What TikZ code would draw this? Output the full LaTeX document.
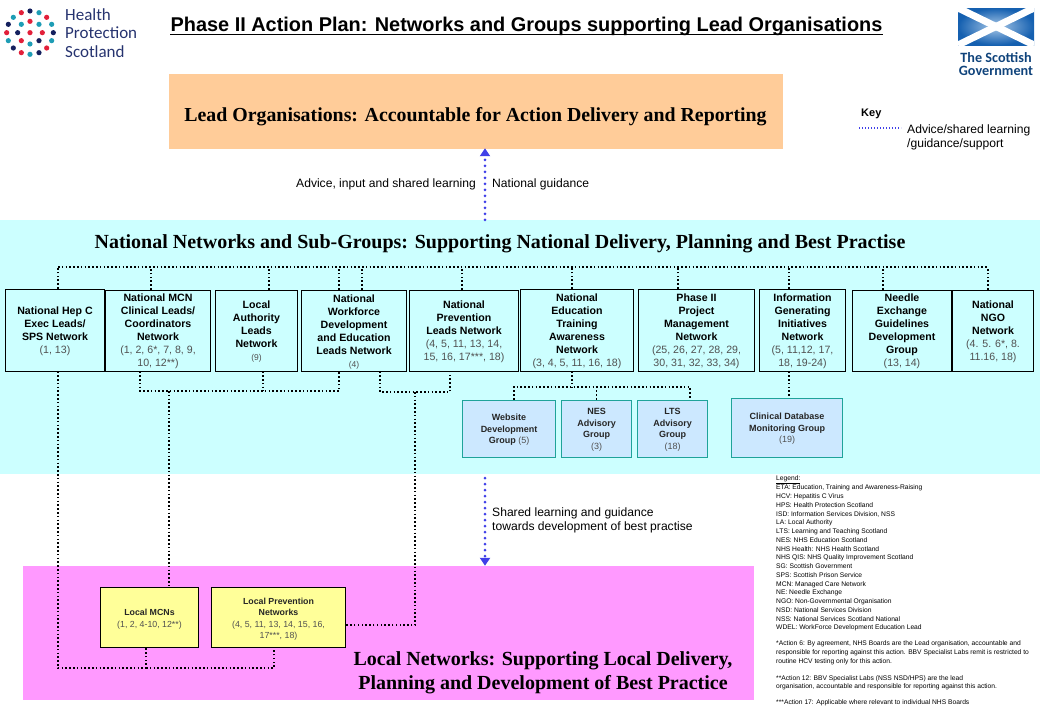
\documentclass[tikz,border=0pt]{standalone}
\usepackage{fontspec}
\setmainfont{Liberation Sans}
\newfontfamily\headfont{Liberation Serif}
\newfontfamily\logofont{Carlito}
\usetikzlibrary{arrows.meta}
\definecolor{leadorange}{HTML}{FFCC99}
\definecolor{bandcyan}{HTML}{CCFFFF}
\definecolor{localpink}{HTML}{FF99FF}
\definecolor{localyellow}{HTML}{FFFF99}
\definecolor{groupblue}{HTML}{CCE8FF}
\definecolor{groupedge}{HTML}{1FA39A}
\definecolor{linkblue}{HTML}{4040E8}
\definecolor{refgray}{HTML}{505050}
\definecolor{hpsred}{HTML}{E2203A}
\definecolor{hpsteal}{HTML}{1E9DB5}
\definecolor{hpsnavy}{HTML}{14205E}
\definecolor{hpstext}{HTML}{26336F}
\definecolor{saltire}{HTML}{1560B0}
\definecolor{saltirelight}{HTML}{A8C8E8}
\newcommand{\refs}[1]{{\mdseries\color{refgray}#1}}
\newcommand{\topgap}[1][10pt]{\rule{0pt}{#1}}
\tikzset{
  netbox/.style={draw, line width=0.9pt, fill=bandcyan, align=center, inner sep=0pt,
    font=\fontsize{10.6}{13}\selectfont\bfseries},
  groupbox/.style={draw=groupedge, line width=0.9pt, fill=groupblue, align=center, inner sep=0pt,
    text=black!85, font=\fontsize{9}{11.4}\selectfont\bfseries},
  localbox/.style={draw, line width=0.9pt, fill=localyellow, align=center, inner sep=0pt,
    text=black!85, font=\fontsize{8.8}{11.4}\selectfont\bfseries},
  headtext/.style={font=\fontsize{20}{24}\selectfont\headfont\bfseries, align=center, inner sep=0pt},
  plaintext/.style={font=\fontsize{12.1}{14}\selectfont, align=left, inner sep=0pt},
  netlink/.style={line width=1.3pt, dash pattern=on 1.5pt off 2.3pt},
  bluelink/.style={line width=3pt, linkblue, line cap=round, dash pattern=on 0pt off 6pt,
    -{Triangle[length=8pt,width=10pt]}}
}
\begin{document}
\begin{tikzpicture}[x=1pt, y=-1pt]
\useasboundingbox (0,0) rectangle (1040,720);
% coloured bands
\node (national) [fill=bandcyan, minimum width=1040pt, minimum height=254pt, inner sep=0pt] at (520,347) {};
\node (localnet) [fill=localpink, minimum width=731pt, minimum height=134pt, inner sep=0pt] at (388.5,633) {};
\node (lead) [fill=leadorange, minimum width=614pt, minimum height=75pt, inner sep=0pt] at (476,111.5) {};
\node (leadhead) [headtext, font=\fontsize{19.85}{24}\selectfont\headfont\bfseries] at (475.5,116.5) {Lead Organisations: Accountable for Action Delivery and Reporting};
\node (nationalhead) [headtext] at (500,244) {National Networks and Sub-Groups: Supporting National Delivery, Planning and Best Practise};
\node (localhead) [headtext] at (543,673) {Local Networks: Supporting Local Delivery,\\Planning and Development of Best Practice};
% title and logos
\node (title) [font=\fontsize{19.9}{22}\selectfont\bfseries, inner sep=0pt, text depth=3pt] at (526.5,25.75) {Phase II Action Plan: Networks and Groups supporting Lead Organisations};
\draw [line width=1.6pt] (title.south west) -- (title.south east);
\foreach \px/\py/\c in {90/33/hpsnavy, 64/38/hpsred, 117/38/hpsteal, 40/52/hpsteal, 140/52/hpsred,
  90/64/hpsred, 64/73/hpsteal, 117/73/hpsteal, 25/73/hpsnavy, 155/73/hpsteal,
  20/98/hpsred, 53/98/hpsnavy, 90/98/hpsred, 127/98/hpsred, 160/98/hpsnavy,
  90/132/hpsteal, 64/122/hpsred, 117/122/hpsnavy, 25/122/hpsteal, 155/122/hpsteal,
  40/144/hpsnavy, 140/144/hpsred, 64/158/hpsred, 90/163/hpsteal, 117/158/hpsnavy}
{
  \fill [\c] (\px/3,\py/3) circle (2.6pt);
}
\node (hpslogo) [anchor=west, font=\fontsize{17}{18.5}\selectfont\logofont, text=hpstext, align=left, inner sep=0pt] at (65,33) {Health\\Protection\\Scotland};
\begin{scope}
\clip (958,8) rectangle (1034,45);
\shade [inner color=saltirelight, outer color=saltire] (958,8) rectangle (1034,45);
\draw [white, line width=7pt] (958,8) -- (1034,45);
\draw [white, line width=7pt] (958,45) -- (1034,8);
\end{scope}
\node (govlogo) [font=\fontsize{14.2}{13.4}\selectfont\logofont\bfseries, text=saltire!70!black, align=center, inner sep=0pt] at (996,64) {The Scottish\\Government};
% key
\node (keyhead) [anchor=west, font=\fontsize{11}{13}\selectfont\bfseries, inner sep=0pt] at (861,114) {Key};
\node (keytext) [anchor=west, plaintext] at (907,137) {Advice/shared learning\\/guidance/support};
\coordinate (keyend) at (859,128);
\draw [line width=1.4pt, linkblue, dash pattern=on 1.4pt off 1.6pt] (keyend) -- ++(42,0);
% arrow labels
\node (advice) [anchor=east, plaintext] at (476,184) {Advice, input and shared learning};
\node (guidance) [anchor=west, plaintext] at (492,184) {National guidance};
\node (shared) [anchor=west, plaintext] at (492,520) {Shared learning and guidance\\towards development of best practise};
% networks
\node (hepc) [netbox, minimum width=99.5pt, minimum height=82pt] at (55,330) {\topgap National Hep C\\Exec Leads/\\SPS Network\\\refs{(1, 13)}};
\node (mcn) [netbox, minimum width=105.5pt, minimum height=81pt] at (158,330.5) {\topgap National MCN\\Clinical Leads/\\Coordinators\\Network\\\refs{(1, 2, 6*, 7, 8, 9,}\\\refs{10, 12**)}};
\node (la) [netbox, minimum width=82.5pt, minimum height=81pt] at (256.5,330.5) {\topgap Local\\Authority\\Leads\\Network\\\refs{\fontsize{8.5}{13}\selectfont(9)}};
\node (work) [netbox, minimum width=105.5pt, minimum height=81pt] at (354,330.5) {\topgap National\\Workforce\\Development\\and Education\\Leads Network\\\refs{\fontsize{8.5}{13}\selectfont(4)}};
\node (prev) [netbox, minimum width=109.5pt, minimum height=81pt] at (464,330.5) {\topgap National\\Prevention\\Leads Network\\\refs{(4, 5, 11, 13, 14,}\\\refs{15, 16, 17***, 18)}};
\node (edu) [netbox, minimum width=113.5pt, minimum height=82pt] at (577,330) {\topgap National\\Education\\Training\\Awareness\\Network\\\refs{(3, 4, 5, 11, 16, 18)}};
\node (phase) [netbox, minimum width=116.5pt, minimum height=82pt] at (696.5,330) {\topgap Phase II\\Project\\Management\\Network\\\refs{(25, 26, 27, 28, 29,}\\\refs{30, 31, 32, 33, 34)}};
\node (info) [netbox, minimum width=86.5pt, minimum height=82pt] at (802.5,330) {\topgap Information\\Generating\\Initiatives\\Network\\\refs{(5, 11,12, 17,}\\\refs{18, 19-24)}};
\node (needle) [netbox, minimum width=99.5pt, minimum height=81pt] at (902,330.5) {\topgap Needle\\Exchange\\Guidelines\\Development\\Group\\\refs{(13, 14)}};
\node (ngo) [netbox, minimum width=81.5pt, minimum height=81pt] at (993,330.5) {\topgap National\\NGO\\Network\\\refs{(4. 5. 6*, 8.}\\\refs{11.16, 18)}};
% sub-groups
\node (website) [groupbox, minimum width=93.5pt, minimum height=57pt] at (509,428.5) {\topgap[9pt]Website\\Development\\Group \refs{(5)}};
\node (nes) [groupbox, minimum width=70.5pt, minimum height=57pt] at (596.5,428.5) {\topgap[9pt]NES\\Advisory\\Group\\\refs{(3)}};
\node (lts) [groupbox, minimum width=70.5pt, minimum height=57pt] at (672.5,428.5) {\topgap[9pt]LTS\\Advisory\\Group\\\refs{(18)}};
\node (clinical) [groupbox, minimum width=111.5pt, minimum height=59pt] at (787,427.5) {\topgap[9pt]Clinical Database\\Monitoring Group\\\refs{(19)}};
% local boxes
\node (localmcn) [localbox, minimum width=98.5pt, minimum height=60pt] at (149.5,617) {\topgap[10.5pt]Local MCNs\\\refs{(1, 2, 4-10, 12**)}};
\node (localprev) [localbox, minimum width=134.5pt, minimum height=60pt] at (278.5,617) {\topgap[10.5pt]Local Prevention\\Networks\\\refs{(4, 5, 11, 13, 14, 15, 16,}\\\refs{17***, 18)}};
% top bus
\coordinate (busleft) at (58,267);
\coordinate (busright) at (988,267);
\draw [netlink] (busleft) -- (busright);
\foreach \n/\s in {hepc/3, mcn/-7, la/12.5, work/-15, work/8, prev/-2, edu/-5, phase/-18.5, info/-13.5, needle/-19, ngo/-5}
{
  \draw [netlink] ([xshift=\s pt]\n.north) -- ([xshift=\s pt]\n.north |- busleft);
}
% below the networks
\coordinate (mcnbus) at (169,391);
\draw [netlink] ([xshift=-18pt]mcn.south) |- (mcnbus) -| ([xshift=-15pt]work.south);
\draw [netlink] ([xshift=6.5pt]la.south) -- ([xshift=6.5pt]la.south |- mcnbus);
\draw [netlink] (mcnbus) -- ([xshift=19.5pt]localmcn.north);
\coordinate (prevbus) at (415,392);
\draw [netlink] ([xshift=26pt]work.south) |- (prevbus) -| ([xshift=-14pt]prev.south);
\draw [netlink] (prevbus) |- ([yshift=-8pt]localprev.east);
\coordinate (localbus) at (146,668);
\draw [netlink] ([xshift=3pt]hepc.south) |- (localbus) -- ([xshift=-3.5pt]localmcn.south);
\draw [netlink] (localbus) -| ([xshift=-4.5pt]localprev.south);
\coordinate (edubus) at (572,387);
\draw [netlink] ([xshift=-5pt]edu.south) -- (edubus);
\draw [netlink] (website.north) ++(5pt,0) |- (edubus) -| ([xshift=17.5pt]lts.north);
\draw [netlink] (nes.north) -- (nes.north |- edubus);
\draw [netlink] ([xshift=-13.5pt]info.south) -- ([xshift=2pt]clinical.north);
% blue arrows
\draw [bluelink] ([xshift=-35pt]national.north) -- ([xshift=9pt,yshift=1pt]lead.south);
\draw [bluelink, shorten <=4pt] ([xshift=-35pt]national.south) -- ([xshift=-35pt]national.south |- localnet.north);
% legend
\node (legend) [anchor=north west, inner sep=0pt, align=left, font=\fontsize{6.7}{8.75}\selectfont] at (776,475) {\underline{Legend:}\\[1pt]
ETA: Education, Training and Awareness-Raising\\
HCV: Hepatitis C Virus\\
HPS: Health Protection Scotland\\
ISD: Information Services Division, NSS\\
LA: Local Authority\\
LTS: Learning and Teaching Scotland\\
NES: NHS Education Scotland\\
NHS Health: NHS Health Scotland\\
NHS QIS: NHS Quality Improvement Scotland\\
SG: Scottish Government\\
SPS: Scottish Prison Service\\
MCN: Managed Care Network\\
NE: Needle Exchange\\
NGO: Non-Governmental Organisation\\
NSD: National Services Division\\
NSS: National Services Scotland National\\
WDEL: WorkForce Development Education Lead\\[7.2pt]
*Action 6: By agreement, NHS Boards are the Lead organisation, accountable and\\
responsible for reporting against this action. BBV Specialist Labs remit is restricted to\\
routine HCV testing only for this action.\\[8pt]
**Action 12: BBV Specialist Labs (NSS NSD/HPS) are the lead\\
organisation, accountable and responsible for reporting against this action.\\[7.2pt]
***Action 17: Applicable where relevant to individual NHS Boards};
\end{tikzpicture}
\end{document}
